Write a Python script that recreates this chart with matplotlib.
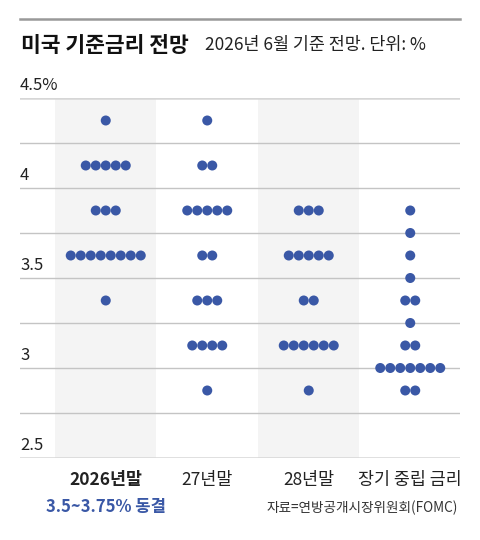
import matplotlib.pyplot as plt
import numpy as np

# --- data: rate level (%) -> number of FOMC dots ---
categories = ["2026년말", "27년말", "28년말", "장기 중립 금리"]
rates_2026 = [4.375, 4.125, 3.875, 3.625, 3.375]
counts_2026 = [1, 5, 3, 8, 1]
rates_2027 = [4.375, 4.125, 3.875, 3.625, 3.375, 3.125, 2.875]
counts_2027 = [1, 2, 5, 2, 3, 4, 1]
rates_2028 = [3.875, 3.625, 3.375, 3.125, 2.875]
counts_2028 = [3, 5, 2, 6, 1]
rates_long = [3.875, 3.75, 3.625, 3.5, 3.375, 3.25, 3.125, 3.0, 2.875]
counts_long = [1, 1, 1, 1, 2, 1, 2, 7, 2]
series = [
    (rates_2026, counts_2026),
    (rates_2027, counts_2027),
    (rates_2028, counts_2028),
    (rates_long, counts_long),
]
ytick_vals = [2.5, 3.0, 3.5, 4.0, 4.5]
ytick_labels = ["2.5", "3", "3.5", "4", "4.5%"]

BLUE = "#3a58a6"
KR = ["Noto Sans CJK KR", "DejaVu Sans"]
plt.rcParams["font.family"] = KR

W, H = 480, 540
fig = plt.figure(figsize=(W / 100, H / 100), dpi=100)

# plot area in pixels: x 20..460, y 98 (4.5) .. 458 (2.5)
ax = fig.add_axes([20 / W, (H - 458) / H, 440 / W, 360 / H])
col_w = 101.5  # px per category column
x_left = -0.5 - 35 / col_w
ax.set_xlim(x_left, x_left + 440 / col_w)
ax.set_ylim(2.5, 4.5)
ax.axis("off")

# shaded columns
for i in (0, 2):
    ax.axvspan(i - 0.5, i + 0.5, color="#f4f4f4", zorder=0, lw=0)

# grid lines
for v in np.arange(2.5, 4.51, 0.25):
    edge = v in (2.5, 4.5)
    ax.axhline(v, color="#d6d6d6" if edge else "#c4c4c4",
               lw=1.8 if edge else 1.0, zorder=1)

# y labels above lines
for v, lab in zip(ytick_vals, ytick_labels):
    ax.annotate(lab, xy=(0, v), xycoords=("axes fraction", "data"),
                xytext=(0, 3), textcoords="offset points",
                ha="left", va="bottom", fontsize=12, color="#222222")

# dots
spacing = 10 / col_w
for i, (rates, counts) in enumerate(series):
    for r, n in zip(rates, counts):
        xs = i + (np.arange(n) - (n - 1) / 2) * spacing
        ax.scatter(xs, [r] * n, s=52, color=BLUE, edgecolors="none", zorder=3)

# category labels
for i, c in enumerate(categories):
    xp = (20 + (i - x_left) * col_w) / W
    fig.text(xp, (H - 480) / H, c, ha="center", va="center",
             fontsize=12.5, color="#222222",
             fontweight="bold" if i == 0 else "normal")

fig.text((20 + (0 - x_left) * col_w) / W, (H - 507) / H, "3.5~3.75% 동결",
         ha="center", va="center", fontsize=12, color=BLUE, fontweight="bold")
fig.text(458 / W, (H - 508) / H, "자료=연방공개시장위원회(FOMC)",
         ha="right", va="center", fontsize=9.8, color="#333333")

# header
fig.add_artist(plt.Line2D([20 / W, 460 / W], [(H - 19) / H] * 2,
                          color="#999999", lw=1.8))
fig.text(21 / W, (H - 45) / H, "미국 기준금리 전망", ha="left", va="center",
         fontsize=15.5, fontweight="bold", color="#111111")
fig.text(205 / W, (H - 45) / H, "2026년 6월 기준 전망. 단위: %",
         ha="left", va="center", fontsize=12.5, color="#222222")

fig.savefig("out.png", dpi=100)
